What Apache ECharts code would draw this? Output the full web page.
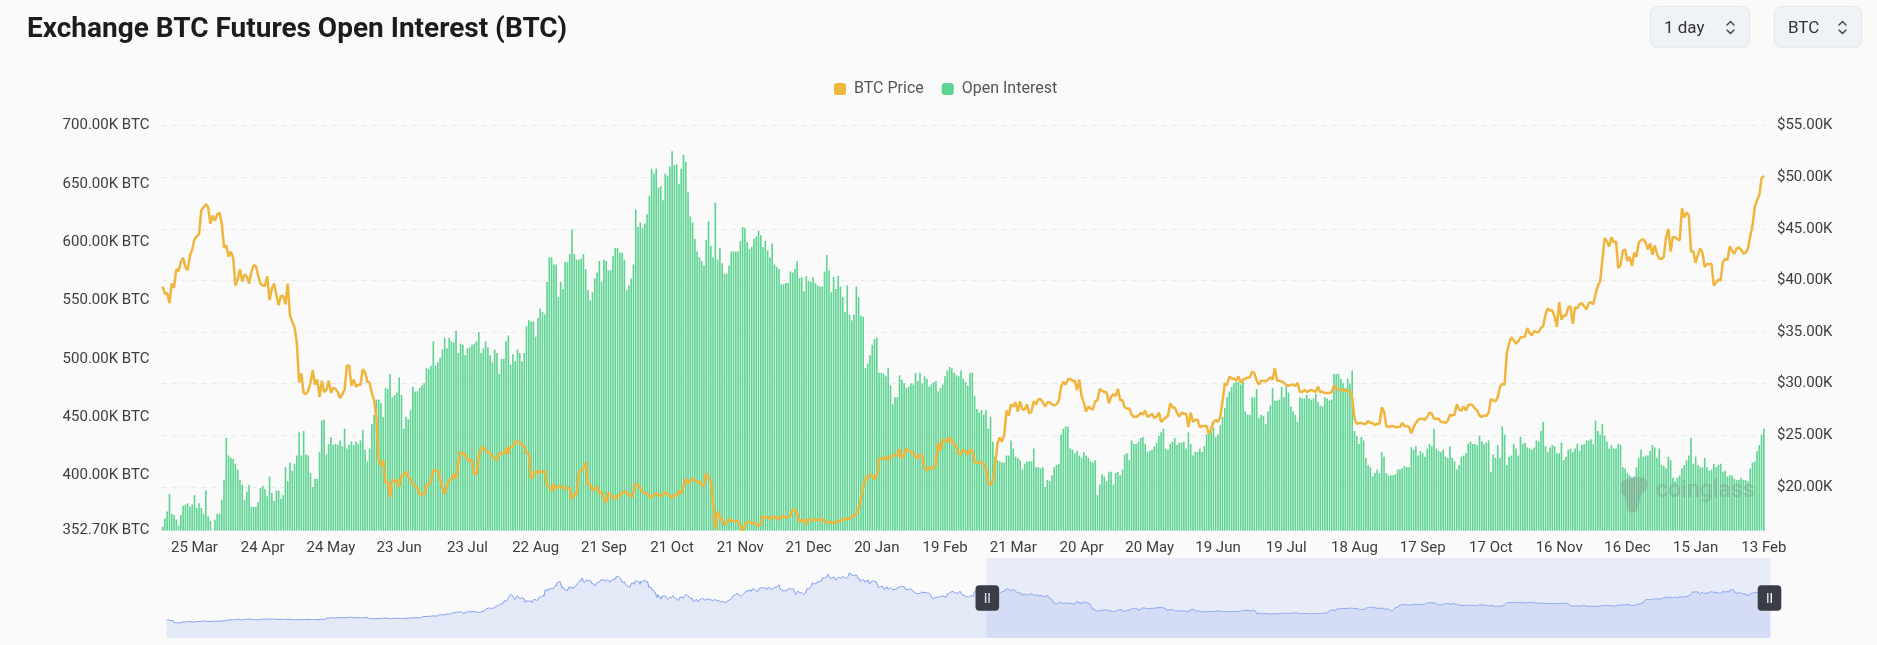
<!DOCTYPE html>
<html>
<head>
<meta charset="utf-8">
<script src="https://cdn.jsdelivr.net/npm/echarts/dist/echarts.min.js"></script>
<style>
html,body{margin:0;padding:0;background:#fafafa;}
#chart{position:absolute;left:0;top:0;width:1877px;height:645px;}
.sel{position:absolute;top:6px;height:41px;box-sizing:border-box;background:#eff2f7;border:1px solid #e3e7ee;border-radius:8px;box-shadow:0 1px 2px rgba(0,0,0,0.07);font-family:Roboto,sans-serif;font-size:17px;color:#333;display:flex;align-items:center;padding-left:13px;z-index:5;}
.sel svg{position:absolute;right:13px;top:11px;}
</style>
</head>
<body>
<div id="chart"></div>
<div class="sel" style="left:1650px;width:100px;">1 day<svg width="11" height="19" viewBox="0 0 11 19"><path d="M2 7 L5.5 3.5 L9 7 M2 12 L5.5 15.5 L9 12" fill="none" stroke="#4a4a4a" stroke-width="1.5" stroke-linecap="round" stroke-linejoin="round"/></svg></div>
<div class="sel" style="left:1774px;width:88px;">BTC<svg width="11" height="19" viewBox="0 0 11 19"><path d="M2 7 L5.5 3.5 L9 7 M2 12 L5.5 15.5 L9 12" fill="none" stroke="#4a4a4a" stroke-width="1.5" stroke-linecap="round" stroke-linejoin="round"/></svg></div>
<script>
// ---------------- DATA (BTC price in $K, open interest in K BTC) ----------------
// Price history hidden by the zoom window (only visible in the slider overview)
const priceHist2020 = [ // 2020-03-05 .. 2020-12-31
9.1,9.2,8.9,8.0,7.9,7.9,7.9,4.9,5.6,5.2,5.4,5.0,5.3,5.4,6.2,6.2,6.2,5.8,6.5,6.8,6.7,6.7,6.4,6.2,5.9,6.4,6.4,
6.6,6.8,6.7,6.9,6.8,7.3,7.2,7.4,7.3,6.9,6.9,6.9,6.8,6.9,6.6,7.1,7.1,7.3,7.1,6.9,6.8,7.1,7.5,7.5,7.6,7.7,7.8,7.8,8.8,8.6,
8.8,8.9,8.9,8.9,9.0,9.2,10.0,9.8,9.5,8.7,8.6,8.8,9.3,9.8,9.3,9.4,9.7,9.7,9.8,9.5,9.1,9.2,9.2,8.8,8.9,8.8,9.2,9.6,9.4,9.7,9.4,
10.2,9.5,9.7,9.8,9.6,9.7,9.8,9.8,9.8,9.9,9.3,9.5,9.5,9.4,9.4,9.5,9.4,9.4,9.3,9.4,9.3,9.7,9.6,9.3,9.2,9.2,9.0,9.1,9.2,9.1,
9.2,9.1,9.1,9.1,9.1,9.3,9.3,9.4,9.2,9.3,9.2,9.3,9.2,9.3,9.2,9.1,9.2,9.2,9.2,9.2,9.4,9.5,9.6,9.5,9.7,9.9,11.0,10.9,11.1,11.1,11.4,
11.8,11.1,11.2,11.2,11.7,11.8,11.6,11.8,11.7,11.9,11.4,11.6,11.8,11.8,11.9,11.9,12.3,11.9,11.8,11.9,11.5,11.7,11.6,11.8,11.3,11.5,11.3,11.5,11.5,11.7,11.7,
12.0,11.4,10.2,10.5,10.2,10.3,10.4,10.1,10.3,10.4,10.4,10.4,10.3,10.7,10.8,11.0,11.0,10.9,11.1,10.9,10.4,10.5,10.2,10.7,10.7,10.7,10.8,10.7,10.8,10.8,
10.6,10.6,10.6,10.7,10.8,10.6,10.7,10.9,11.1,11.3,11.4,11.5,11.4,11.4,11.5,11.3,11.4,11.5,11.8,11.9,12.8,13.0,13.0,13.1,13.0,13.1,13.7,13.3,13.5,13.8,13.8,
13.7,13.5,14.0,14.1,15.6,15.6,14.8,15.5,15.3,15.3,15.7,16.3,16.3,16.1,15.9,16.7,17.7,17.8,17.8,18.7,18.7,18.4,18.4,19.2,18.7,17.1,17.1,17.7,18.2,19.7,
18.8,19.2,19.4,18.7,19.2,19.4,19.2,18.3,18.6,18.3,18.0,18.8,19.2,19.3,19.4,21.3,22.8,23.1,23.9,23.5,22.7,23.8,23.2,23.7,24.7,26.5,26.3,27.0,27.4,28.9,29.0
];
const priceHist2021 = [ // 2021-01-01 .. 2021-12-31
29.4,32.2,33.0,32.0,34.0,36.8,39.4,40.6,40.2,38.2,35.6,34.0,37.4,39.1,36.8,36.0,35.8,36.6,35.9,35.5,30.8,33.0,32.1,32.3,32.5,32.5,30.4,33.5,34.3,34.3,33.1,
33.5,35.5,37.6,36.9,38.3,39.3,38.9,46.4,46.5,45.0,48.0,47.4,47.2,48.6,47.9,49.1,52.1,51.6,55.9,55.8,57.4,54.2,48.9,49.7,47.1,46.3,46.2,45.2,
49.6,48.4,50.4,48.4,48.8,48.9,51.0,52.4,54.9,55.9,57.8,57.2,61.2,59.0,55.6,56.9,58.9,57.6,58.3,58.1,57.4,54.1,54.3,52.3,51.3,55.0,55.8,55.8,57.6,58.8,58.8,
58.7,59.0,57.1,58.2,59.1,58.0,56.0,58.1,58.1,59.8,59.9,59.8,63.6,62.9,63.2,61.4,60.1,56.2,55.7,56.5,53.8,51.7,51.1,50.1,49.1,54.0,55.0,54.9,53.6,57.8,
57.8,56.6,57.2,53.2,57.5,56.4,57.4,58.9,58.3,55.8,56.7,49.5,49.7,49.9,46.8,46.4,43.6,42.9,37.0,40.8,37.3,37.5,34.7,38.8,38.3,39.3,38.5,35.7,34.6,35.7,37.3,
36.7,37.6,39.2,36.9,35.5,35.8,33.6,33.4,37.4,36.7,37.3,35.6,39.0,40.5,40.1,38.3,38.1,35.8,35.5,35.6,31.7,32.5,33.7,34.7,31.6,32.3,34.7,34.5,36.0,35.0,
33.5,33.8,34.7,35.3,33.7,34.2,33.9,32.9,33.8,33.5,34.3,33.1,32.7,32.8,31.9,31.4,31.5,31.8,30.8,29.8,32.1,32.3,33.6,34.3,35.4,37.3,39.4,40.0,40.0,42.2,41.5,
39.9,39.2,38.2,39.7,40.9,42.8,44.6,43.8,46.3,45.6,45.6,44.4,47.8,47.1,47.0,45.9,44.7,44.7,46.8,49.3,48.9,49.3,49.5,47.7,48.9,47.0,49.1,48.9,48.8,47.0,47.2,
48.8,49.3,50.0,49.9,51.8,52.7,46.9,46.1,46.4,44.9,45.2,46.1,44.9,47.1,48.1,47.8,47.3,48.3,47.3,43.0,40.7,43.6,44.9,42.8,42.7,43.2,42.2,41.0,41.5,43.8,
48.1,47.7,48.2,49.2,51.5,55.3,53.8,53.9,55.0,54.7,57.5,56.0,57.4,57.4,61.7,60.9,61.5,62.0,64.3,66.0,62.2,60.7,61.3,60.9,63.1,60.3,58.5,60.6,62.3,61.9,61.3,
61.0,63.2,62.9,61.4,61.0,61.5,63.3,67.5,66.9,64.9,64.8,64.2,64.4,65.5,63.6,60.1,60.4,56.9,58.1,59.7,58.7,56.3,57.5,57.2,58.9,53.7,54.7,57.3,57.8,57.0,
57.2,56.5,53.6,49.4,49.4,50.6,50.5,50.6,47.6,47.1,49.4,50.1,46.7,48.4,48.9,47.6,46.2,46.9,46.7,46.9,49.0,48.6,50.8,50.4,50.8,50.7,50.6,47.5,46.5,47.1,46.2
];
const priceHist2022 = [ // 2022-01-01 .. 2022-03-10
47.7,47.3,46.4,45.8,43.4,43.1,41.6,41.9,41.8,41.8,42.7,43.9,42.6,43.1,43.2,43.1,42.3,42.4,41.7,40.7,36.5,35.1,36.3,36.7,36.9,37.0,37.7,37.9,38.2,37.9,38.5,
38.7,36.9,37.3,41.6,41.4,42.4,43.8,44.0,44.4,43.6,42.4,42.2,42.1,42.6,44.6,43.9,40.5,40.0,40.1,38.4,37.0,38.2,37.3,38.3,39.2,39.1,37.7,43.2,
44.4,44.0,42.5,39.1,39.4,38.4,38.0,38.7,41.9,39.4
];
// Price inside the visible window
const priceView2022 = [ // 2022-03-11 .. 2022-12-31 (no 2022-11-05 entry)
39.4,38.7,38.8,37.8,39.7,39.3,41.1,40.9,41.8,42.2,41.3,41.0,42.4,43.0,44.0,44.3,44.5,46.8,47.1,47.4,47.1,
45.5,46.3,45.8,46.4,46.6,45.5,43.2,43.4,42.3,42.8,42.2,39.5,40.1,41.1,39.9,40.6,40.4,39.7,40.8,41.5,41.4,40.5,39.7,39.5,39.5,40.4,38.1,39.2,39.7,38.6,
37.6,38.5,38.5,37.7,39.7,36.6,36.0,35.5,34.0,30.1,31.0,29.1,29.0,29.3,30.1,31.3,29.9,30.4,28.7,30.3,29.2,29.4,30.3,29.1,29.6,29.5,29.2,28.6,29.0,29.4,31.7,
31.8,29.8,30.4,29.7,29.9,29.9,31.4,31.1,30.2,30.1,29.1,28.4,26.6,22.5,22.1,22.6,20.4,20.5,19.0,20.6,20.6,20.7,20.0,21.1,21.2,21.5,21.0,20.7,20.3,20.1,
19.9,19.3,19.3,19.3,20.2,20.2,20.5,21.6,21.6,21.6,20.8,19.9,19.3,20.2,20.6,20.8,21.2,20.8,22.4,23.4,23.2,23.2,22.7,22.5,22.6,21.3,21.2,22.9,23.8,23.8,23.6,
23.3,23.3,22.9,22.8,22.6,23.3,23.2,23.2,23.8,23.2,23.9,23.9,24.4,24.4,24.3,24.1,23.9,23.3,23.2,20.8,21.1,21.5,21.4,21.5,21.4,21.6,20.2,20.0,19.6,20.3,19.8,
20.1,20.1,19.9,19.8,20.0,19.8,18.8,19.3,19.3,21.4,21.6,21.8,22.4,20.2,20.2,19.7,19.8,20.1,19.4,19.5,18.9,18.5,19.4,19.3,18.9,18.8,19.2,19.1,19.4,19.6,
19.4,19.3,19.0,19.6,20.3,20.2,19.9,19.5,19.4,19.4,19.1,19.0,19.2,19.4,19.2,19.1,19.3,19.5,19.3,19.1,19.0,19.2,19.2,19.6,19.3,20.1,20.8,20.3,20.6,20.8,20.6,
20.5,20.5,20.2,20.2,21.3,20.9,20.6,18.5,15.9,17.6,17.1,16.8,16.3,16.6,16.9,16.7,16.7,16.7,16.7,16.3,15.78,16.2,16.6,16.6,16.5,16.5,16.4,16.2,16.4,
17.2,17.0,17.1,16.9,17.1,17.0,17.1,16.8,17.2,17.1,17.1,17.1,17.2,17.8,17.8,17.4,16.6,16.8,16.8,16.4,16.9,16.8,16.8,16.8,16.8,16.8,16.9,16.7,16.5,16.6,16.6
];
const priceView2023 = [ // 2023-01-01 .. 2023-12-31
16.5,16.6,16.7,16.7,16.9,16.8,17.0,16.9,17.1,17.2,17.4,17.9,18.8,19.9,20.9,20.9,21.2,21.1,20.7,21.1,22.7,22.8,22.7,22.9,22.6,23.0,23.0,23.1,23.0,23.7,22.8,
23.1,23.7,23.5,23.4,23.3,22.9,22.8,23.2,22.9,21.8,21.6,21.9,21.8,21.8,22.2,24.3,23.5,24.6,24.6,24.3,24.8,24.4,24.2,23.9,23.2,23.2,23.6,23.5,
23.1,23.6,23.5,22.4,22.4,22.4,22.4,22.2,21.7,20.4,20.2,20.6,22.1,24.2,24.8,24.4,25.0,27.4,26.9,28.0,27.8,28.2,27.3,28.3,27.5,27.5,28.0,27.1,27.3,28.3,28.0,
28.5,28.5,28.2,27.8,28.2,28.2,28.0,27.9,28.0,28.3,29.7,30.2,29.9,30.4,30.5,30.3,30.3,29.4,30.4,28.8,28.2,27.3,27.8,27.6,27.5,28.3,28.4,29.5,29.3,29.2,
29.2,28.1,28.7,29.0,28.8,29.5,28.4,28.4,27.7,27.6,27.6,27.0,26.8,26.8,26.9,27.2,27.0,27.4,26.8,26.9,27.1,26.7,26.8,27.2,26.3,26.5,26.7,26.9,28.1,27.7,27.7,
27.2,26.8,27.2,27.1,27.1,25.8,27.2,26.3,26.5,26.5,25.8,25.9,25.9,25.9,25.1,25.6,26.3,26.5,26.3,26.8,28.3,30.0,29.9,30.7,30.5,30.5,30.3,30.7,30.1,30.4,
30.5,30.6,30.6,31.2,31.0,30.3,29.9,30.3,30.3,30.2,30.4,30.6,30.4,31.5,30.3,30.3,30.2,30.1,29.9,29.8,29.9,29.9,29.8,30.1,29.2,29.2,29.4,29.2,29.3,29.4,29.3,
29.2,29.7,29.2,29.2,29.1,29.1,29.1,29.2,29.8,29.6,29.4,29.4,29.4,29.3,29.4,29.2,28.7,26.6,26.1,26.2,26.2,26.1,26.1,26.4,26.2,26.2,26.0,26.1,26.1,27.7,27.3,
25.9,25.8,25.9,25.9,25.8,25.8,25.8,26.2,25.9,25.9,25.8,25.2,25.8,26.2,26.5,26.6,26.6,26.5,26.8,27.2,27.1,26.6,26.6,26.6,26.3,26.3,26.2,26.4,27.0,26.9,
27.0,28.0,27.5,27.4,27.8,27.4,27.9,28.0,27.9,27.6,27.4,26.9,26.8,26.9,26.9,27.2,28.5,28.4,28.3,28.7,29.7,30.0,29.9,33.0,33.9,34.5,34.2,33.9,34.1,34.5,34.5,
34.6,35.4,34.9,34.7,35.1,35.0,35.0,35.4,35.6,36.7,37.3,37.1,37.1,36.5,35.5,37.9,36.2,36.6,36.6,37.4,37.5,35.8,37.4,37.3,37.7,37.8,37.5,37.2,37.8,37.9,
37.7,38.7,39.5,39.9,42.0,44.1,43.8,43.3,44.2,43.7,43.8,41.2,41.5,42.9,43.0,41.9,42.3,41.4,42.7,42.3,43.7,43.9,44.0,43.7,43.0,43.6,42.5,43.4,42.6,42.1,42.1
];
const priceView2024 = [ // 2024-01-01 .. 2024-02-13 (last point = live value of 13 Feb)
42.3,44.2,45.0,42.8,44.2,44.2,44.0,43.9,47.0,46.1,46.6,46.3,42.8,42.8,41.7,42.5,43.1,42.7,41.3,41.6,41.6,41.6,39.5,39.8,40.1,40.0,41.8,42.1,42.0,43.3,42.9,
42.6,43.1,43.2,43.0,42.6,42.7,43.1,44.3,45.3,47.1,47.8,48.3,49.9,50.15
];
// Open interest (K BTC) inside the visible window
const oiPart1 = [ // 2022-03-11 .. 2022-07-07
356,363,369,384,367,366,362,357,366,374,375,376,373,375,383,372,376,372,367,387,
365,361,352.7,362,367,367,379,396,432,417,415,414,410,405,396,392,379,386,392,373,
373,373,377,389,391,388,382,399,385,378,387,387,380,383,407,395,411,404,410,417,
437,417,438,418,417,402,390,397,397,420,447,448,418,427,433,426,427,426,430,425,
440,423,426,429,426,429,427,430,439,422,412,423,444,452,465,465,462,450,475,474,
487,467,469,471,484,469,440,450,448,456,476,472,472,475,477,479,492,491,494
];
const oiPart2 = [ // 2022-07-08 .. 2022-11-03
515,494,497,501,508,518,509,518,515,514,524,505,513,512,503,509,510,512,513,515,
523,505,509,515,510,503,497,508,505,487,500,500,515,520,495,504,498,508,505,498,
505,528,533,532,532,519,535,543,540,538,566,587,587,581,581,553,566,560,583,583,
590,611,590,585,585,586,590,577,559,550,557,569,574,584,566,585,584,576,576,588,
595,595,591,591,585,559,563,569,581,628,613,617,612,616,624,640,663,659,663,647,
648,636,659,657,665,678,666,667,650,663,675,669,643,622,617,603,592,587,584
];
const oiPart3 = [ // 2022-11-04 .. 2023-03-02
580,602,618,597,587,634,585,595,582,573,573,580,592,592,592,592,601,613,612,600,
594,596,603,605,610,606,596,601,593,587,599,581,579,577,564,564,565,565,575,574,
577,584,569,570,558,571,567,566,570,565,563,562,562,575,589,576,557,570,560,571,
562,553,540,563,538,533,538,562,553,537,536,492,496,503,512,517,518,488,488,487,
485,492,477,461,467,467,486,482,479,475,476,479,478,488,481,488,479,485,483,476,
478,480,481,472,475,478,485,490,493,492,488,486,485,490,483,480,477,488
];
const oiPart4 = [ // 2023-03-03 .. 2023-06-29
488,468,457,454,456,452,456,440,450,429,417,413,412,411,411,417,417,430,423,416,
415,413,405,410,412,412,412,423,407,407,406,407,390,396,395,400,407,409,410,435,
440,442,442,423,422,419,421,417,415,420,417,415,412,411,413,383,392,401,399,395,
403,403,392,402,403,400,405,418,419,413,430,427,427,429,432,433,427,420,421,422,
425,428,434,437,440,423,422,427,429,432,426,428,428,429,423,437,427,417,420,420,
423,420,425,435,435,437,441,433,435,443,450,458,467,472,476,479,480,480,478
];
const oiPart5 = [ // 2023-06-30 .. 2023-10-26
481,455,452,452,467,467,474,449,452,451,444,455,460,475,464,464,465,476,467,477,
471,459,455,452,446,467,466,466,469,466,465,466,470,463,460,459,467,466,464,465,
487,487,487,483,479,475,483,479,490,438,434,427,433,430,415,409,407,399,402,405,
402,420,416,402,400,400,400,401,405,405,406,408,407,407,424,422,425,417,421,419,
416,423,427,425,440,423,421,420,422,416,415,425,415,412,405,409,416,417,419,427,
429,427,427,426,434,429,427,428,430,403,418,415,426,415,442,435,409,416,417
];
const oiPart6 = [ // 2023-10-27 .. 2024-02-13
427,423,417,433,427,428,424,423,422,424,430,429,438,446,425,420,424,426,425,419,
419,428,413,416,422,423,420,423,427,421,426,427,430,430,431,427,447,438,435,444,
434,429,423,426,423,423,427,426,407,406,402,400,398,399,407,415,422,416,417,417,
421,426,424,415,423,409,408,406,416,413,398,395,398,400,406,409,413,417,432,410,
416,409,407,407,415,407,404,405,410,407,409,410,403,404,399,400,400,397,396,396,
398,396,396,395,406,411,412,421,426,435,440
];
// Category (date) definition
const VIEW_FIRST_DATE = '2022-03-11';
const MISSING_DATES = ['2022-11-05'];
const FIRST_LABEL_DATE = '2022-03-25';
const LABEL_STEP = 30;
const MONTHS = ['Jan','Feb','Mar','Apr','May','Jun','Jul','Aug','Sep','Oct','Nov','Dec'];

// ---------------- BUILD ----------------
const priceHidden = priceHist2020.concat(priceHist2021, priceHist2022);
const priceView = priceView2022.concat(priceView2023, priceView2024);
const oiView = oiPart1.concat(oiPart2, oiPart3, oiPart4, oiPart5, oiPart6);

function iso(d){ return d.toISOString().slice(0,10); }
function parse(s){ const p = s.split('-'); return new Date(Date.UTC(+p[0], +p[1]-1, +p[2])); }
const viewDates = [];
let dd = parse(VIEW_FIRST_DATE);
while (viewDates.length < priceView.length - 1) {
  const s = iso(dd);
  if (MISSING_DATES.indexOf(s) < 0) viewDates.push(s);
  dd.setUTCDate(dd.getUTCDate() + 1);
}
viewDates.push(viewDates[viewDates.length - 1]);
const hiddenDates = [];
dd = parse(VIEW_FIRST_DATE);
for (let k = 0; k < priceHidden.length; k++) { dd.setUTCDate(dd.getUTCDate() - 1); hiddenDates.unshift(iso(dd)); }
const categories = hiddenDates.concat(viewDates);
const priceAll = priceHidden.concat(priceView);
const oiAll = priceHidden.map(() => null).concat(oiView);
const viewStart = priceHidden.length;
const labelAnchor = viewStart + viewDates.indexOf(FIRST_LABEL_DATE);

const oiMin = Math.min.apply(null, oiView);
const priceMin = Math.min.apply(null, priceView);

const labelColor = '#3d3d3d';
const chart = echarts.init(document.getElementById('chart'));
chart.setOption({
  backgroundColor: '#fafafa',
  animation: false,
  textStyle: { fontFamily: 'Roboto, sans-serif' },
  title: {
    text: 'Exchange BTC Futures Open Interest (BTC)',
    left: 22, top: 11,
    textStyle: { fontSize: 28, fontWeight: 700, color: '#1c1c1e', fontFamily: 'Roboto' }
  },
  legend: {
    top: 76, left: 829, itemWidth: 12, itemHeight: 12, itemGap: 18, icon: 'roundRect',
    textStyle: { fontSize: 16, color: '#555', padding: [0, 0, 0, 3] },
    data: ['BTC Price', 'Open Interest']
  },
  grid: { left: 161.5, right: 112, top: 125.7, bottom: 114.5 },
  xAxis: {
    type: 'category', data: categories, boundaryGap: true,
    axisLine: { show: false }, axisTick: { show: false }, splitLine: { show: false },
    axisLabel: {
      color: labelColor, fontSize: 15, margin: 10,
      interval: function (idx) { return idx >= labelAnchor && (idx - labelAnchor) % LABEL_STEP === 0; },
      formatter: function (v) { const p = v.split('-'); return (+p[2]) + ' ' + MONTHS[+p[1] - 1]; }
    }
  },
  yAxis: [
    {
      type: 'value', position: 'left', min: oiMin, max: 700, splitNumber: 7,
      axisLine: { show: false }, axisTick: { show: false }, splitLine: { show: false },
      axisLabel: { color: labelColor, fontSize: 15, margin: 12, formatter: v => v.toFixed(2) + 'K BTC' }
    },
    {
      type: 'value', position: 'right', min: priceMin, max: 55, splitNumber: 8,
      axisLine: { show: false }, axisTick: { show: false },
      splitLine: { show: true, lineStyle: { color: '#e9e9e9', type: [5, 5], width: 1 } },
      axisLabel: { color: labelColor, fontSize: 15, margin: 12, showMinLabel: false, formatter: v => '$' + v.toFixed(2) + 'K' }
    }
  ],
  dataZoom: [{
    type: 'slider', xAxisIndex: 0, startValue: viewStart, endValue: categories.length - 1,
    left: 164, right: 109, top: 558, height: 80,
    backgroundColor: 'rgba(0,0,0,0)', borderColor: 'rgba(0,0,0,0)',
    fillerColor: 'rgba(140,165,235,0.17)',
    dataBackground: { lineStyle: { color: '#7f9ef0', width: 1, opacity: 1 }, areaStyle: { color: '#dfe5f6', opacity: 0.85 } },
    selectedDataBackground: { lineStyle: { color: '#8aa6f2', width: 1, opacity: 1 }, areaStyle: { color: '#c9d5f4', opacity: 0.5 } },
    handleIcon: 'path://M4,0H20A4,4,0,0,1,24,4V22A4,4,0,0,1,20,26H4A4,4,0,0,1,0,22V4A4,4,0,0,1,4,0ZM9.5,8V18H11V8ZM13,8V18H14.5V8Z',
    handleSize: '32%',
    handleStyle: { color: '#3a3d46', borderColor: '#3a3d46', borderWidth: 0 },
    moveHandleSize: 0, showDetail: false, brushSelect: false
  }],
  graphic: [
    { type: 'polygon', z: 100, shape: { points: [[1621,483],[1628,478],[1636,477],[1644,478],[1648,482],[1646,491],[1641,494],[1640,500],[1637,511],[1631,513],[1627,510],[1626,498],[1621,492]] }, style: { fill: 'rgba(130,130,130,0.33)' } },
    { type: 'text', z: 100, left: 1656, top: 480, style: { text: 'coinglass', font: '500 23px Roboto', fill: 'rgba(130,130,130,0.33)' } }
  ],
  series: [
    {
      name: 'BTC Price', type: 'line', yAxisIndex: 1, data: priceAll, z: 3,
      showSymbol: false, symbol: 'none',
      lineStyle: { width: 2.5, color: '#f0b53d' }, itemStyle: { color: '#f0b53d' }
    },
    {
      name: 'Open Interest', type: 'bar', yAxisIndex: 0, data: oiAll,
      barCategoryGap: '28%', itemStyle: { color: '#5ed492' }
    }
  ]
});
</script>
</body>
</html>
